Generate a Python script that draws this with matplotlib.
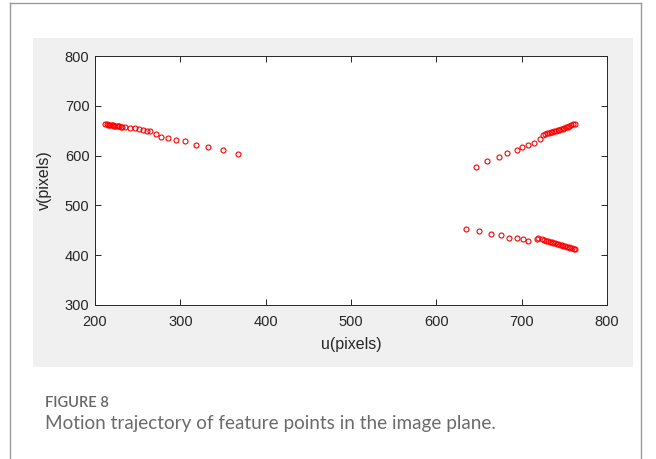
import numpy as np
import matplotlib.pyplot as plt
from matplotlib.lines import Line2D
from matplotlib.patches import Rectangle

# feature point 1 (upper left track)
u1 = [212, 213.5, 215, 216.5, 218, 219.5, 221, 222.5, 224, 225.5, 227, 228.5, 230, 231.5,
      235, 241, 247, 252, 256.5, 261, 265, 271.5, 277, 285.5, 295, 305.5, 318, 332, 350, 368]
v1 = [663, 662.6, 662.2, 661.8, 661.4, 661, 660.6, 660.2, 659.8, 659.4, 659, 658.6, 658.2, 657.8,
      657, 656, 655, 653, 651.5, 650, 649.5, 643, 637, 635, 631, 629, 621, 617, 611, 603]

# feature point 2 (upper right track)
u2 = [646, 659.5, 673.5, 682.5, 694, 700, 708, 714, 721.5, 725.5, 727, 729.5, 732, 734,
      736, 738, 740, 742, 744, 746, 748, 750, 752, 754, 756, 758, 760, 762]
v2 = [576.5, 588.5, 596.5, 606, 612, 618, 621.5, 625.5, 633, 641.5, 643.5, 644.5, 645.5, 646.5,
      647.5, 648.5, 649.5, 650.5, 651.5, 652.5, 653.5, 655, 656.5, 658, 659.5, 661, 662.5, 664]

# feature point 3 (lower right track)
u3 = [634.5, 650, 664, 675.5, 685.5, 694, 702, 708, 717.5, 719.5, 723.5, 726, 728.5, 731,
      733, 735, 737, 739, 741, 743, 745, 747, 749, 751, 753, 755, 757, 759, 761, 763]
v3 = [452, 448.5, 442, 440.5, 435.5, 435.5, 432, 428.5, 432, 435, 432, 430, 429, 428,
      427, 426, 425, 424, 423, 422, 421, 420, 419, 418, 417, 416, 415, 414, 413, 412]

xticks = [200, 300, 400, 500, 600, 700, 800]
yticks = [300, 400, 500, 600, 700, 800]

plt.rcParams['font.family'] = ['Liberation Sans', 'DejaVu Sans']

fig = plt.figure(figsize=(6.56, 4.59), dpi=100)
fig.patch.set_facecolor('white')

W, H = 656.0, 459.0

# card border (open at the bottom)
border = dict(color='#9a9a9a', lw=1.0, transform=fig.transFigure)
fig.add_artist(Line2D([10 / W, 10 / W], [0, 1 - 3 / H], **border))
fig.add_artist(Line2D([641 / W, 641 / W], [0, 1 - 3 / H], **border))
fig.add_artist(Line2D([10 / W, 641 / W], [1 - 3 / H, 1 - 3 / H], **border))

# grey figure background behind the axes
fig.add_artist(Rectangle((33 / W, 1 - 367 / H), 600 / W, 329 / H,
                         transform=fig.transFigure, facecolor='#f0f0f0',
                         edgecolor='none', zorder=0))

ax = fig.add_axes([95 / W, 1 - 305 / H, 512 / W, 249 / H])
ax.set_facecolor('white')

mk = dict(linestyle='none', marker='o', markersize=3.6, markerfacecolor='none',
          markeredgecolor='#ff0000', markeredgewidth=0.8)
ax.plot(u1, v1, **mk)
ax.plot(u2, v2, **mk)
ax.plot(u3, v3, **mk)

ax.set_xlim(200, 800)
ax.set_ylim(300, 800)
ax.set_xticks(xticks)
ax.set_yticks(yticks)
ax.tick_params(direction='in', length=4.5, width=0.7, top=True, right=True,
               labelsize=10.5, colors='#262626')
ax.tick_params(axis='x', pad=7)
ax.tick_params(axis='y', pad=4)
for s in ax.spines.values():
    s.set_color('#262626')
    s.set_linewidth(0.7)

ax.set_xlabel('u(pixels)', fontsize=11.5, color='#262626', labelpad=6)
ax.set_ylabel('v(pixels)', fontsize=11.5, color='#262626', labelpad=9)

fig.text(45 / W, 1 - 407 / H, 'FIGURE 8', fontsize=10.5, color='#666666',
         family=['Lato', 'DejaVu Sans'], weight='semibold', va='baseline')
fig.text(45 / W, 1 - 429 / H, 'Motion trajectory of feature points in the image plane.',
         fontsize=13.6, color='#6b6b6b', family=['Lato', 'DejaVu Sans'], va='baseline')

fig.savefig('out.png', dpi=100)
